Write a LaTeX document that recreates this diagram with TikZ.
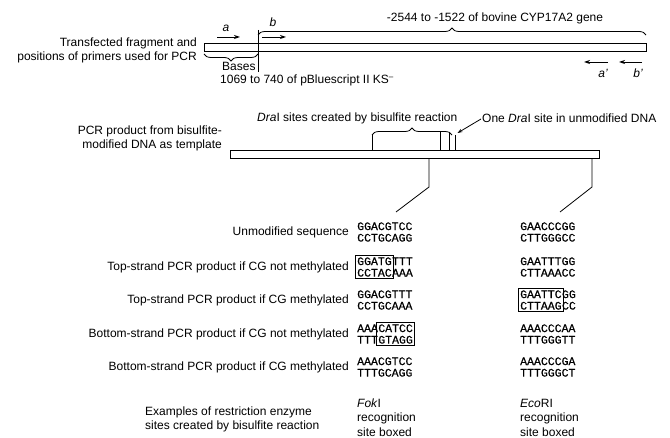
\documentclass[tikz,border=0pt]{standalone}
\usepackage{fontspec}
\setmainfont{Liberation Sans}
\newfontfamily\seqfont[FakeBold=0.8]{Liberation Mono}
\usetikzlibrary{arrows.meta,decorations.pathreplacing,fit}
\begin{document}
\begin{tikzpicture}[x=1pt,y=-1pt,
  lbl/.style={font=\fontsize{12}{14}\selectfont, inner sep=0pt},
  seq/.style={font=\seqfont\fontsize{11.5}{11.5}\selectfont, inner sep=0pt, anchor=base west},
  dna/.style={draw, line width=1pt},
  conn/.style={line width=0.8pt},
  primer/.style={line width=0.9pt, -{Stealth[length=6pt,width=4pt]}},
  brc/.style={decorate, decoration={brace, amplitude=7pt}, line width=0.8pt},
  sitebox/.style={draw, line width=0.9pt, inner sep=1.6pt}]
\useasboundingbox (0,0) rectangle (670,438);

% ---------- transfected fragment ----------
\node[lbl, align=right, anchor=east] (lblfrag) at (197,50) {Transfected fragment and\\positions of primers used for PCR};
\draw[dna] (204,44) rectangle (646,52);
\coordinate (junTop) at (258,30);
\coordinate (junBot) at (258,72);
\draw[conn] (junTop) -- (junBot);
\draw[brc] (258,35) -- (646,35);
\node[lbl] (gene) at (495,18) {-2544 to -1522 of bovine CYP17A2 gene};
\draw[brc, decoration={mirror}] (204,54) -- (258,54);
\node[lbl, anchor=base west] (bases) at (222,70.5) {Bases};
\node[lbl, anchor=base west] (bp) at (220,84) {1069 to 740 of pBluescript II KS\textsuperscript{–}};

% primers
\coordinate (pa1) at (217,37); \coordinate (pa2) at (240,37);
\coordinate (pb1) at (262,37); \coordinate (pb2) at (286,37);
\coordinate (pa3) at (608,62); \coordinate (pa4) at (584,62);
\coordinate (pb3) at (642,62); \coordinate (pb4) at (619,62);
\draw[primer] (pa1) -- (pa2);
\draw[primer] (pb1) -- (pb2);
\draw[primer] (pa3) -- (pa4);
\draw[primer] (pb3) -- (pb4);
\node[lbl] (la) at (226,28) {\itshape a};
\node[lbl] (lb) at (273,22) {\itshape b};
\node[lbl] (lap) at (603,73) {\itshape a'};
\node[lbl] (lbp) at (638,73) {\itshape b'};

% ---------- PCR product ----------
\node[lbl, align=right, anchor=east] (lblpcr) at (222,138.5) {PCR product from bisulfite-\\modified DNA as template};
\draw[dna] (230,151) rectangle (599,159);
\node[lbl, anchor=west] (drasites) at (257,118) {\textit{Dra}I sites created by bisulfite reaction};
\node[lbl, anchor=west] (onedra) at (482,118) {One \textit{Dra}I site in unmodified DNA};
\draw[brc] (372,135) -- (452,135);
\draw[conn] (372,135) -- (372,151);
\draw[conn] (440,132) -- (440,151);
\draw[conn] (449,132) -- (449,151);
\coordinate (dratop) at (455,135);
\draw[conn] (dratop) -- (455,151);
\draw[conn, -{Stealth[length=5pt,width=3.5pt]}] (onedra.west) ++(-1,1) -- (457.5,133);

% lines down to sequences
\coordinate (c1a) at (429,159); \coordinate (c1b) at (429,187); \coordinate (c1c) at (396,212);
\coordinate (c2a) at (592,159); \coordinate (c2b) at (592,187); \coordinate (c2c) at (560,212);
\draw[conn] (c1a) -- (c1b) -- (c1c);
\draw[conn] (c2a) -- (c2b) -- (c2c);

% ---------- rows ----------
\node[lbl, anchor=east] (r1) at (349,232) {Unmodified sequence};
\node[lbl, anchor=east] (r2) at (349,267) {Top-strand PCR product if CG not methylated};
\node[lbl, anchor=east] (r3) at (349,300) {Top-strand PCR product if CG methylated};
\node[lbl, anchor=east] (r4) at (349,334) {Bottom-strand PCR product if CG not methylated};
\node[lbl, anchor=east] (r5) at (349,367) {Bottom-strand PCR product if CG methylated};

% row 1
\node[seq] (s1t) at (357,230.05) {GGACGTCC};
\node[seq] (s1b) at (357,241.55) {CCTGCAGG};
\node[seq] (e1t) at (520,230.05) {GAACCCGG};
\node[seq] (e1b) at (520,241.55) {CTTGGGCC};
% row 2
\node[seq] (s2ta) at (357,265.05) {GGATG};
\node[seq] (s2tb) at (s2ta.base east) {TTT};
\node[seq] (s2ba) at (357,276.55) {CCTAC};
\node[seq] (s2bb) at (s2ba.base east) {AAA};
\node[sitebox, fit=(s2ta)(s2ba)] (box2) {};
\node[seq] (e2t) at (520,265.05) {GAATTTGG};
\node[seq] (e2b) at (520,276.55) {CTTAAACC};
% row 3
\node[seq] (s3t) at (357,298.05) {GGACGTTT};
\node[seq] (s3b) at (357,309.55) {CCTGCAAA};
\node[seq] (e3ta) at (520,298.05) {GAATTC};
\node[seq] (e3tb) at (e3ta.base east) {GG};
\node[seq] (e3ba) at (520,309.55) {CTTAAG};
\node[seq] (e3bb) at (e3ba.base east) {CC};
\node[sitebox, fit=(e3ta)(e3ba)] (box3) {};
% row 4
\node[seq] (s4ta) at (357,332.05) {AAA};
\node[seq] (s4tb) at (s4ta.base east) {CATCC};
\node[seq] (s4ba) at (357,343.55) {TTT};
\node[seq] (s4bb) at (s4ba.base east) {GTAGG};
\node[sitebox, fit=(s4tb)(s4bb)] (box4) {};
\node[seq] (e4t) at (520,332.05) {AAACCCAA};
\node[seq] (e4b) at (520,343.55) {TTTGGGTT};
% row 5
\node[seq] (s5t) at (357,365.05) {AAACGTCC};
\node[seq] (s5b) at (357,376.55) {TTTGCAGG};
\node[seq] (e5t) at (520,365.05) {AAACCCGA};
\node[seq] (e5b) at (520,376.55) {TTTGGGCT};

% ---------- bottom ----------
\node[lbl, align=left, anchor=west] (examples) at (145,419) {Examples of restriction enzyme\\sites created by bisulfite reaction};
\node[lbl, align=left, anchor=west, font=\fontsize{12}{14.5}\selectfont] (fok) at (357,417.5) {\textit{Fok}I\\recognition\\site boxed};
\node[lbl, align=left, anchor=west, font=\fontsize{12}{14.5}\selectfont] (eco) at (520,417.5) {\textit{Eco}RI\\recognition\\site boxed};
\end{tikzpicture}
\end{document}
